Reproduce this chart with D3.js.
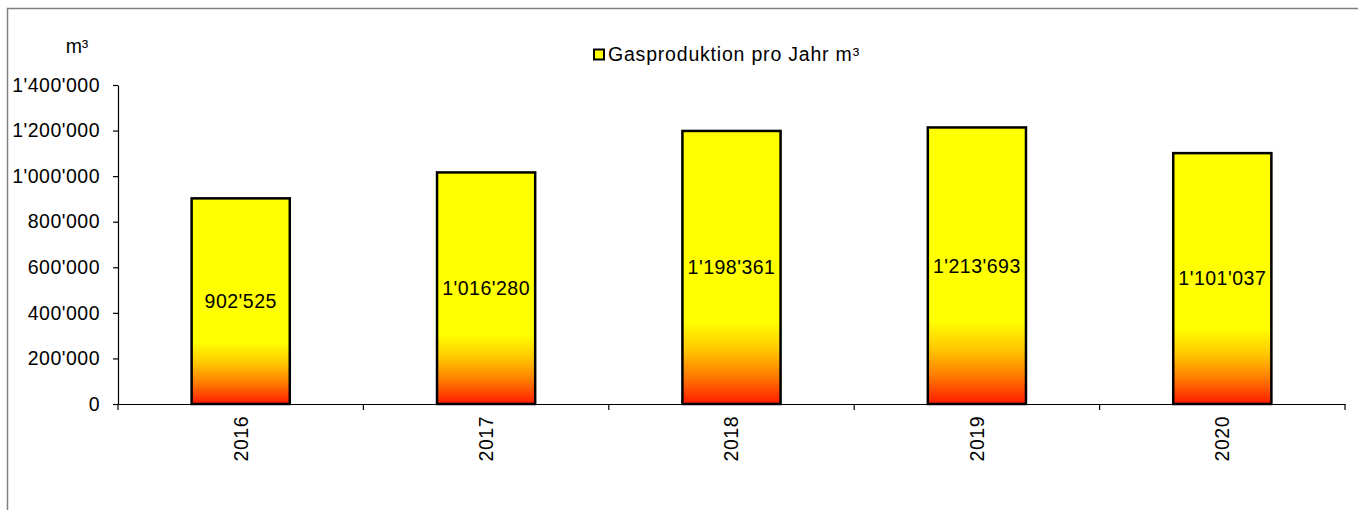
<!DOCTYPE html>
<html><head><meta charset="utf-8">
<script src="https://cdn.jsdelivr.net/npm/d3@7"></script>
<style>
html,body{margin:0;padding:0;background:#fff;}
text{font-family:"Liberation Sans",Arial,sans-serif;fill:#000;}
</style></head>
<body>
<svg id="chart" width="1358" height="510"></svg>
<script>
const categories = ["2016","2017","2018","2019","2020"];
const values = [902525, 1016280, 1198361, 1213693, 1101037];
const yTicks = [0,200000,400000,600000,800000,1000000,1200000,1400000];
const seriesName = "Gasproduktion pro Jahr m³";
const unitLabel = "m³";

const svg = d3.select("#chart");
const fmt = v => d3.format(",")(v).replace(/,/g, "'");
const FS = "19.5px", LS = "0.5px";

// outer frame
svg.append("rect").attr("x",7.5).attr("y",8.5).attr("width",1400).attr("height",600)
  .attr("fill","none").attr("stroke","#808080").attr("stroke-width",1.5);

const plot = {left:118, right:1345, top:85, bottom:404};
const x = d3.scaleBand().domain(categories).range([plot.left, plot.right]).paddingInner(0).paddingOuter(0);
const y = d3.scaleLinear().domain([0,1400000]).range([plot.bottom, plot.top]);

const defs = svg.append("defs");
const grad = defs.append("linearGradient").attr("id","barGrad").attr("x1",0).attr("y1",0).attr("x2",0).attr("y2",1);
[[0,"#ffff00"],[0.70,"#ffff00"],[0.80,"#ffc800"],[0.90,"#ff7a00"],[1,"#ff1a00"]].forEach(([o,c])=>
  grad.append("stop").attr("offset",o).attr("stop-color",c));

// y axis
const yAxis = svg.append("g").attr("transform",`translate(${plot.left},0)`)
  .call(d3.axisLeft(y).tickValues(yTicks).tickFormat(fmt).tickSize(5).tickSizeOuter(0).tickPadding(13));
yAxis.select(".domain").attr("stroke","#000").attr("stroke-width",1.2);
yAxis.selectAll(".tick line").attr("stroke","#000").attr("stroke-width",1.2);
yAxis.selectAll("text").style("font-size",FS).style("letter-spacing",LS).attr("font-family",null).attr("fill","#000");

// x axis
const xAxis = svg.append("g").attr("transform",`translate(0,${plot.bottom})`)
  .call(d3.axisBottom(x).tickSize(0).tickSizeOuter(0));
xAxis.select(".domain").attr("stroke","#000").attr("stroke-width",1.2);
xAxis.selectAll(".tick line").remove();
xAxis.selectAll("text")
  .style("font-size",FS).style("letter-spacing",LS).attr("font-family",null).attr("fill","#000")
  .attr("text-anchor","end").attr("dy","0.35em")
  .attr("transform","translate(0,12) rotate(-90)").attr("x",0).attr("y",0);
// category boundary ticks
const bounds = categories.map(c=>x(c)).concat([x(categories[categories.length-1])+x.bandwidth()]);
svg.append("g").selectAll("line").data(bounds).join("line")
  .attr("x1",d=>d).attr("x2",d=>d).attr("y1",plot.bottom).attr("y2",plot.bottom+6)
  .attr("stroke","#000").attr("stroke-width",1.2);

// bars
const bw = x.bandwidth()*0.4;
const bars = svg.append("g").selectAll("g").data(categories.map((c,i)=>({c,v:values[i]}))).join("g");
bars.append("rect")
  .attr("x",d=>x(d.c)+x.bandwidth()/2-bw/2).attr("width",bw)
  .attr("y",d=>y(d.v)).attr("height",d=>y(0)-y(d.v))
  .attr("fill","url(#barGrad)").attr("stroke","#000").attr("stroke-width",2.5);
bars.append("text")
  .attr("x",d=>x(d.c)+x.bandwidth()/2).attr("y",d=>(y(d.v)+y(0))/2)
  .attr("text-anchor","middle").attr("dy","0.35em")
  .style("font-size",FS).style("letter-spacing",LS)
  .text(d=>fmt(d.v));

// unit label
svg.append("text").attr("x",77).attr("y",53).attr("text-anchor","middle")
  .style("font-size",FS).text(unitLabel);

// legend
const lg = svg.append("g");
lg.append("rect").attr("x",594).attr("y",49.5).attr("width",10).attr("height",10)
  .attr("fill","#ffff00").attr("stroke","#000").attr("stroke-width",2);
lg.append("text").attr("x",608).attr("y",61)
  .style("font-size",FS).style("letter-spacing","0.8px").text(seriesName);
</script>
</body></html>
